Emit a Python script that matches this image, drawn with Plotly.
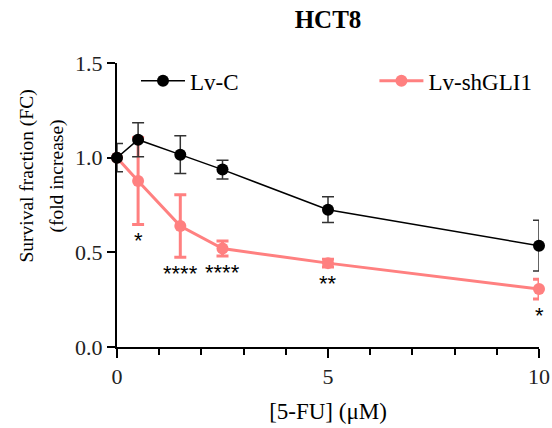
import plotly.graph_objects as go

# ---- data ----
dose = [0, 0.5, 1.5, 2.5, 5, 10]
lvc_mean = [1.00, 1.095, 1.016, 0.937, 0.725, 0.535]
lvc_sd = [0.075, 0.09, 0.10, 0.05, 0.068, 0.134]
sh_mean = [1.00, 0.877, 0.639, 0.520, 0.443, 0.306]
sh_sd = [0.0, 0.23, 0.165, 0.04, 0.02, 0.052]
sig = ["", "*", "****", "****", "**", "*"]

x_ticks = [0, 5, 10]
y_ticks = [0.0, 0.5, 1.0, 1.5]
y_tick_text = ["0.0", "0.5", "1.0", "1.5"]
y_title_lines = ["Survival fraction (FC)", "(fold increase)"]

PINK = "#FF8080"
SERIF = "Liberation Serif, Times New Roman, serif"

fig = go.Figure()

fig.add_trace(go.Scatter(
    x=dose, y=sh_mean, name="Lv-shGLI1", mode="lines+markers",
    line=dict(color=PINK, width=3),
    marker=dict(color=PINK, size=12),
    error_y=dict(type="data", array=sh_sd, color=PINK, thickness=3, width=6),
    cliponaxis=False, legend="legend2",
))
fig.add_trace(go.Scatter(
    x=dose, y=lvc_mean, name="Lv-C", mode="lines+markers",
    line=dict(color="black", width=1.5),
    marker=dict(color="black", size=12),
    error_y=dict(type="data", array=lvc_sd, color="#333333", thickness=1.5, width=6),
    cliponaxis=False, legend="legend",
))

# significance stars below the shGLI1 error bars
for xv, m, s, t in zip(dose, sh_mean, sh_sd, sig):
    if t:
        fig.add_annotation(
            x=xv, y=m - s - 0.055, text=t, showarrow=False,
            xanchor="center", yanchor="middle", yshift=-6,
            font=dict(family="Liberation Sans, Arial, sans-serif", size=22, color="black"),
        )

# y-axis title (two lines, set a little apart)
for i, line in enumerate(y_title_lines):
    fig.add_annotation(
        x=0, y=0.6, xref="paper", yref="paper",
        xshift=-90 + 30 * i,
        text=line, textangle=-90,
        showarrow=False, xanchor="center", yanchor="middle",
        font=dict(family=SERIF, size=19.5, color="black"),
    )

leg_common = dict(orientation="h", yanchor="middle", xanchor="left",
                  itemwidth=44,
                  font=dict(family=SERIF, size=23, color="black"),
                  bgcolor="rgba(0,0,0,0)")

fig.update_layout(
    width=552, height=428,
    margin=dict(l=117, r=13, t=63, b=81),
    paper_bgcolor="white", plot_bgcolor="white",
    title=dict(text="<b>HCT8</b>", x=0.5, xref="paper", xanchor="center",
               y=0.955, yanchor="middle",
               font=dict(family=SERIF, size=25, color="black")),
    showlegend=True,
    legend=dict(x=0.045, y=0.937, **leg_common),
    legend2=dict(x=0.61, y=0.937, **leg_common),
    xaxis=dict(
        range=[0, 10], tickvals=x_ticks, ticktext=[str(v) for v in x_ticks],
        showline=True, linecolor="black", linewidth=2, mirror=False,
        ticks="outside", ticklen=9, tickwidth=2, tickcolor="black",
        showgrid=False, zeroline=False, automargin=False,
        minor=dict(dtick=1, ticks="outside", ticklen=6, tickwidth=2, tickcolor="black", showgrid=False),
        tickfont=dict(family=SERIF, size=22, color="#222222"),
        title=dict(text="[5-FU] (μM)", font=dict(family=SERIF, size=23, color="black"), standoff=14),
    ),
    yaxis=dict(
        range=[0, 1.5], tickvals=y_ticks, ticktext=y_tick_text,
        showline=True, linecolor="black", linewidth=2, automargin=False,
        ticks="outside", ticklen=8, tickwidth=2, tickcolor="black",
        showgrid=False, zeroline=False,
        tickfont=dict(family=SERIF, size=22, color="#222222"),
    ),
)

fig.write_html("out.html")
